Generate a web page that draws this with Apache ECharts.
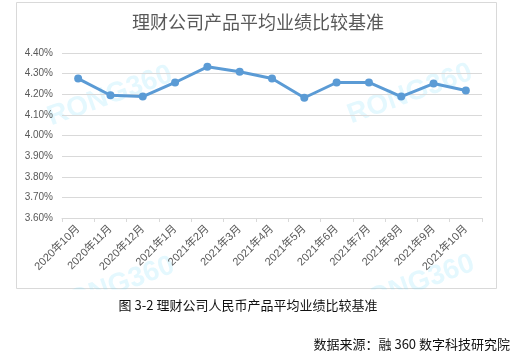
<!DOCTYPE html>
<html>
<head>
<meta charset="utf-8">
<script src="https://cdn.jsdelivr.net/npm/echarts@6/dist/echarts.min.js"></script>
<style>
html,body{margin:0;padding:0;background:#fff;}
#c{width:516px;height:362px;}
</style>
</head>
<body>
<div id="c"></div>
<script>
const categories = ['2020年10月','2020年11月','2020年12月','2021年1月','2021年2月','2021年3月','2021年4月','2021年5月','2021年6月','2021年7月','2021年8月','2021年9月','2021年10月'];
const values = [4.276, 4.195, 4.189, 4.257, 4.333, 4.309, 4.276, 4.183, 4.257, 4.257, 4.189, 4.252, 4.218];
const yMin = 3.6, yMax = 4.4, yStep = 0.1;
const titleText = '理财公司产品平均业绩比较基准';
const captionText = '图 3-2 理财公司人民币产品平均业绩比较基准';
const sourceText = '数据来源：融 360 数字科技研究院';
const watermarkText = 'RONG360';

const FONT = '"Liberation Sans", "Noto Sans CJK SC", sans-serif';
const chart = echarts.init(document.getElementById('c'), null, {renderer:'canvas'});

function wm(x, y) {
  return {
    type:'text', x:x, y:y, rotation: 20*Math.PI/180, z:-10, silent:true,
    style:{text:watermarkText, fill:'rgba(120,220,250,0.2)', font:'bold 28px "Liberation Sans", sans-serif', align:'center', verticalAlign:'middle'}
  };
}

chart.setOption({
  backgroundColor:'#fff',
  animation:false,
  title:{text:titleText, left:'center', top:10, textStyle:{fontSize:18, fontWeight:'normal', color:'#595959', fontFamily:FONT}},
  grid:{left:62, right:34, top:53, bottom:144, containLabel:false},
  xAxis:{
    type:'category', data:categories, boundaryGap:true,
    axisLine:{show:true, lineStyle:{color:'#d9d9d9'}},
    axisTick:{show:true, length:4, lineStyle:{color:'#d9d9d9'}},
    axisLabel:{rotate:45, fontSize:11, color:'#595959', margin:9, fontFamily:FONT, interval:0}
  },
  yAxis:{
    type:'value', min:yMin, max:yMax, interval:yStep,
    axisLine:{show:false}, axisTick:{show:false},
    splitLine:{lineStyle:{color:'#d9d9d9'}},
    axisLabel:{fontSize:10, color:'#595959', margin:9, fontFamily:FONT, formatter:v=>v.toFixed(2)+'%'}
  },
  series:[{
    type:'line', data:values, symbol:'circle', symbolSize:8,
    lineStyle:{color:'#5b9bd5', width:3}, itemStyle:{color:'#5b9bd5'}, z:5
  }],
  graphic:[
    {type:'rect', shape:{x:16.5, y:2.5, width:480, height:286}, style:{fill:'none', stroke:'#d9d9d9', lineWidth:1}, z:-20, silent:true},
    wm(110, 96), wm(410, 94), wm(112, 287), wm(412, 285),
    {type:'rect', shape:{x:0, y:289.5, width:516, height:80}, style:{fill:'#fff'}, z:-5, silent:true},
    {type:'text', x:248, y:305, z:10, style:{text:captionText, fill:'#111', font:'13px "Noto Sans CJK SC", sans-serif', align:'center', verticalAlign:'middle'}},
    {type:'text', x:510, y:344, z:10, style:{text:sourceText, fill:'#111', font:'13px "Noto Sans CJK SC", sans-serif', align:'right', verticalAlign:'middle'}}
  ]
});
</script>
</body>
</html>
